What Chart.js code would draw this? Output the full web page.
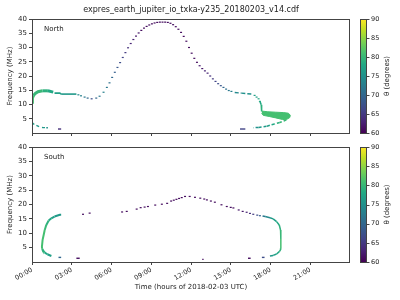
<!DOCTYPE html>
<html>
<head>
<meta charset="utf-8">
<script src="https://cdn.jsdelivr.net/npm/chart.js@4.4.0/dist/chart.umd.min.js"></script>
<style>
body { margin: 0; background: #fff; }
canvas { position: absolute; left: 0; }
#north { top: 0; }
#south { top: 140px; }
</style>
</head>
<body>
<canvas id="north" width="400" height="140"></canvas>
<canvas id="south" width="400" height="160"></canvas>
<script>
// axis ticks
var timeTicks = [0, 3, 6, 9, 12, 15, 18, 21];
var timeTickLabels = ['00:00', '03:00', '06:00', '09:00', '12:00', '15:00', '18:00', '21:00'];
var freqTicks = [5, 10, 15, 20, 25, 30, 35, 40];
var thetaTicks = [60, 65, 70, 75, 80, 85, 90];

// North: continuous parts of the upper branch
var northHeadT = [0.0, 0.03, 0.1, 0.25, 0.45, 0.8, 1.2, 1.6];
var northHeadF = [10.8, 12.2, 13.1, 13.9, 14.5, 14.8, 14.8, 14.35];
var northHeadTheta = [81, 81, 80, 80, 80, 79, 78, 77];
var northShelfT = [1.7, 2.1, 2.2, 2.8, 3.35];
var northShelfF = [14.0, 14.0, 13.65, 13.65, 13.65];
var northShelfTheta = [77, 77, 76, 76, 76];
var northShoulderT = [15.3, 15.8, 16.2, 16.7];
var northShoulderF = [14.2, 14.0, 13.8, 13.65];
var northShoulderTheta = [74, 75, 75, 76];
var northHookT = [17.2, 17.3, 17.33];
var northHookF = [11.1, 9.9, 7.6];
var northHookTheta = [78, 79, 80];

// North: sparse points of the arc
var northArcT = [3.5, 3.7, 3.97, 4.2, 4.5, 4.85, 5.1, 5.4, 5.65, 5.85, 6.05, 6.25, 6.45, 6.65, 6.85, 7.05, 7.25, 7.45, 7.65, 7.85,
  8.05, 8.25, 8.45, 8.65, 8.85, 9.05, 9.25, 9.45, 9.65, 9.85, 10.05, 10.25, 10.45, 10.65, 10.85, 11.05, 11.25, 11.45, 11.65, 11.85,
  12.05, 12.25, 12.45, 12.65, 12.85, 13.05, 13.25, 13.45, 13.65, 13.85, 14.05, 14.25, 14.45, 14.65, 14.85, 15.05,
  16.8, 16.95, 17.1, 17.2];
var northArcF = [13.4, 13.05, 12.6, 12.25, 12.0, 12.25, 12.9, 14.3, 16.0, 17.6, 19.5, 21.3, 23.0, 24.7, 26.5, 28.2, 29.9, 31.4, 32.8, 34.0,
  35.1, 36.0, 36.8, 37.4, 37.9, 38.3, 38.6, 38.8, 38.9, 38.9, 38.9, 38.8, 38.5, 38.0, 37.3, 36.4, 35.3, 33.9, 32.2, 30.0,
  28.0, 26.2, 24.8, 23.6, 22.6, 21.8, 21.0, 20.0, 19.0, 18.1, 17.3, 16.6, 16.0, 15.4, 14.9, 14.6,
  13.2, 12.6, 12.0, 11.1];
var northArcTheta = [74, 73, 72, 70, 67, 70, 72, 73, 72, 71, 70, 69, 68, 67, 66, 65, 64, 63, 63, 62,
  62, 61, 61, 61, 61, 61, 61, 61, 61, 61, 61, 61, 61, 61, 61, 61, 61, 61, 61, 61,
  61, 61, 61, 62, 62, 63, 63, 64, 65, 66, 67, 68, 70, 71, 72, 73,
  77, 77, 78, 78];

// North: emission patch near 18h (upper and lower edge)
var northPatchTopT = [17.33, 17.8, 18.4, 19.0, 19.35, 19.5];
var northPatchTopF = [7.7, 7.45, 7.3, 7.15, 6.95, 6.2];
var northPatchBottomT = [17.33, 17.45, 17.9, 18.4, 18.9, 19.2, 19.45, 19.5];
var northPatchBottomF = [7.0, 6.2, 5.8, 5.3, 4.75, 4.7, 5.4, 6.2];
var northPatchTheta = 81;

// North: lower branches
var northTailT = [19.2, 19.0, 18.7, 18.3, 17.95, 17.7, 17.4, 17.1, 16.7];
var northTailF = [4.6, 4.2, 3.7, 3.15, 2.7, 2.35, 2.15, 1.95, 1.85];
var northTailTheta = [80, 80, 79, 78, 77, 76, 76, 75, 75];
var northLowT = [0.0, 0.2, 0.33, 0.58, 0.8, 1.08, 1.2];
var northLowF = [3.7, 2.9, 2.65, 2.1, 1.95, 1.85, 1.85];
var northLowTheta = [77, 77, 76, 76, 76, 75, 75];
var northDashStart = [1.96, 15.7];
var northDashEnd = [2.2, 16.1];
var northDashF = [1.4, 1.4];
var northDashTheta = [64, 66];

// South
var southHookT = [2.2, 2.1, 1.7, 1.46, 1.26, 1.08, 0.96, 0.88, 0.8, 0.75, 0.76, 0.8, 0.96, 1.16, 1.46];
var southHookF = [16.4, 16.4, 15.8, 15.2, 14.4, 12.9, 11.15, 9.4, 7.7, 5.3, 4.6, 4.2, 3.25, 2.7, 2.1];
var southHookTheta = [76, 76, 77, 78, 79, 80, 81, 81, 81, 81, 80, 79, 78, 77, 76];
var southArcT = [3.85, 4.35, 6.8, 7.15, 7.9, 8.2, 8.5, 8.75, 9.3, 9.8, 10.2, 10.5, 10.7, 10.9, 11.1, 11.3, 11.55, 11.9,
  12.3, 12.7, 13.0, 13.2, 13.5, 13.8, 14.3, 14.7, 15.0, 15.2, 15.6, 15.9, 16.2, 16.45, 16.7, 17.0, 17.2];
var southArcF = [16.6, 17.0, 17.4, 17.6, 18.4, 18.9, 19.1, 19.3, 19.8, 20.1, 20.4, 21.2, 21.5, 21.8, 22.1, 22.4, 22.8, 22.8,
  22.5, 22.2, 21.9, 21.6, 21.2, 20.8, 19.9, 19.3, 19.0, 18.8, 18.1, 17.6, 17.3, 16.9, 16.6, 16.3, 16.1];
var southArcTheta = [61, 61, 61, 61, 61, 61, 61, 61, 61, 61, 61, 61, 61, 61, 61, 61, 61, 61,
  61, 61, 61, 61, 61, 61, 61, 61, 61, 61, 62, 62, 63, 64, 65, 67, 69];
var southEdgeT = [17.4, 17.6, 17.96, 18.2, 18.46, 18.66, 18.76, 18.78, 18.78, 18.76, 18.66, 18.46, 18.2, 17.96];
var southEdgeF = [16.0, 15.8, 15.4, 15.0, 14.05, 12.9, 11.15, 8.0, 4.8, 4.2, 3.6, 2.8, 2.3, 2.1];
var southEdgeTheta = [72, 74, 76, 77, 78, 79, 80, 81, 80, 79, 78, 77, 76, 75];
var southDashStart = [2.0, 3.35, 12.85, 16.3, 17.35];
var southDashEnd = [2.2, 3.6, 12.95, 16.5, 17.55];
var southDashF = [1.6, 1.3, 0.9, 1.3, 1.6];
var southDashTheta = [70, 61, 61, 61, 67];

var thetaMin = 60, thetaMax = 90;
var viridisStops = ['#440154', '#482475', '#414487', '#355f8d', '#2a788e', '#21918c',
  '#22a884', '#44bf70', '#7ad151', '#bddf26', '#fde725'];

function hexRgb(h) {
  return [parseInt(h.substr(1, 2), 16), parseInt(h.substr(3, 2), 16), parseInt(h.substr(5, 2), 16)];
}

function viridis(theta) {
  var u = Math.min(1, Math.max(0, (theta - thetaMin) / (thetaMax - thetaMin))) * (viridisStops.length - 1);
  var i = Math.min(Math.floor(u), viridisStops.length - 2);
  var k = u - i;
  var a = hexRgb(viridisStops[i]), b = hexRgb(viridisStops[i + 1]);
  return 'rgb(' + a.map(function (v, j) { return Math.round(v + (b[j] - v) * k); }).join(',') + ')';
}

function xy(t, f) {
  return t.map(function (x, i) { return {x: x, y: f[i]}; });
}

function track(t, f, th, width, dash) {
  return {
    data: xy(t, f),
    showLine: true,
    pointRadius: 0,
    borderWidth: width,
    borderDash: dash || [],
    borderColor: viridis(th[0]),
    segment: { borderColor: function (c) { return viridis(th[c.p0DataIndex]); } },
    fill: false
  };
}

function dots(t, f, th) {
  var cols = th.map(viridis);
  return {
    data: xy(t, f),
    showLine: false,
    pointStyle: 'line',
    pointRadius: 1,
    pointBorderWidth: 1.2,
    pointBorderColor: cols,
    pointBackgroundColor: cols
  };
}

function dashes(t0, t1, f, th) {
  return t0.map(function (s, i) {
    return track([s, t1[i]], [f[i], f[i]], [th[i], th[i]], 1.4);
  });
}

var decor = {
  id: 'decor',
  afterDraw: function (chart, args, opts) {
    var ctx = chart.ctx, a = chart.chartArea;
    ctx.save();
    ctx.strokeStyle = '#444';
    ctx.lineWidth = 1;
    ctx.strokeRect(Math.round(a.left) + 0.5, Math.round(a.top) + 0.5, Math.round(a.width) - 1, Math.round(a.height));

    ctx.fillStyle = '#222';
    ctx.font = '7px "DejaVu Sans"';
    ctx.textBaseline = 'middle';
    ctx.textAlign = 'left';
    ctx.fillText(opts.label, a.left + 12, a.top + 10);

    if (opts.title) {
      ctx.font = '8px "DejaVu Sans"';
      ctx.textAlign = 'center';
      ctx.fillText(opts.title, (a.left + a.right) / 2, 10);
    }

    // colour bar
    var x0 = Math.round(a.right) + 10, w = 7;
    var g = ctx.createLinearGradient(0, a.bottom, 0, a.top);
    viridisStops.forEach(function (c, i) { g.addColorStop(i / (viridisStops.length - 1), c); });
    ctx.fillStyle = g;
    ctx.fillRect(x0, a.top, w, a.height);
    ctx.strokeRect(x0 + 0.5, Math.round(a.top) + 0.5, w - 1, Math.round(a.height));
    ctx.fillStyle = '#222';
    ctx.font = '6.5px "DejaVu Sans"';
    ctx.textAlign = 'left';
    thetaTicks.forEach(function (v) {
      var y = a.bottom - (v - thetaMin) / (thetaMax - thetaMin) * a.height;
      ctx.beginPath();
      ctx.moveTo(x0 + w, Math.round(y) + 0.5);
      ctx.lineTo(x0 + w + 2.5, Math.round(y) + 0.5);
      ctx.stroke();
      ctx.fillText(String(v), x0 + w + 4, y);
    });
    ctx.translate(x0 + 27, (a.top + a.bottom) / 2);
    ctx.rotate(-Math.PI / 2);
    ctx.textAlign = 'center';
    ctx.font = '7px "DejaVu Sans"';
    ctx.fillText('\u03b8 (degrees)', 0, 0);
    ctx.restore();
  }
};

function makeChart(id, datasets, opts) {
  return new Chart(document.getElementById(id).getContext('2d'), {
    type: 'line',
    data: { datasets: datasets },
    plugins: [decor],
    options: {
      responsive: false,
      animation: false,
      layout: { padding: { left: 0, right: 50, top: opts.top, bottom: 0 } },
      plugins: {
        legend: { display: false },
        tooltip: { enabled: false },
        decor: { label: opts.label, title: opts.title }
      },
      scales: {
        x: {
          type: 'linear',
          min: 0,
          max: 24,
          afterBuildTicks: function (s) { s.ticks = timeTicks.map(function (v) { return {value: v}; }); },
          afterFit: function (s) { s.height = opts.xHeight; },
          border: { display: false },
          grid: { drawOnChartArea: false, drawTicks: true, tickLength: 3, color: '#444' },
          ticks: {
            display: opts.xLabels,
            autoSkip: false,
            minRotation: 30,
            maxRotation: 30,
            padding: 1,
            color: '#222',
            font: { family: 'DejaVu Sans', size: 6.5 },
            callback: function (v) { return timeTickLabels[timeTicks.indexOf(v)]; }
          },
          title: {
            display: opts.xLabels,
            text: 'Time (hours of 2018-02-03 UTC)',
            color: '#222',
            font: { family: 'DejaVu Sans', size: 7 },
            padding: { top: 0, bottom: 9 }
          }
        },
        y: {
          min: 0,
          max: 40,
          afterBuildTicks: function (s) { s.ticks = freqTicks.map(function (v) { return {value: v}; }); },
          afterFit: function (s) { s.width = 32; },
          border: { display: false },
          grid: { drawOnChartArea: false, drawTicks: true, tickLength: 3, color: '#444' },
          ticks: {
            padding: 2,
            color: '#222',
            font: { family: 'DejaVu Sans', size: 7 }
          },
          title: {
            display: true,
            text: 'Frequency (MHz)',
            color: '#222',
            font: { family: 'DejaVu Sans', size: 7 },
            padding: { top: 6, bottom: 0 }
          }
        }
      }
    }
  });
}

var patchColor = viridis(northPatchTheta);
var northSets = [
  {
    data: xy(northPatchTopT, northPatchTopF), showLine: true, pointRadius: 0, borderWidth: 1,
    borderColor: patchColor, backgroundColor: patchColor, fill: '+1'
  },
  {
    data: xy(northPatchBottomT, northPatchBottomF), showLine: true, pointRadius: 0, borderWidth: 1,
    borderColor: patchColor, fill: false
  },
  track(northHeadT, northHeadF, northHeadTheta, 3),
  track(northShelfT, northShelfF, northShelfTheta, 1.6),
  track(northShoulderT, northShoulderF, northShoulderTheta, 1.4, [4, 2]),
  track(northHookT, northHookF, northHookTheta, 1.5),
  track(northTailT, northTailF, northTailTheta, 1.5, [3, 2]),
  track(northLowT, northLowF, northLowTheta, 1.4, [3, 3]),
  dots(northArcT, northArcF, northArcTheta)
].concat(dashes(northDashStart, northDashEnd, northDashF, northDashTheta));

var southSets = [
  track(southHookT, southHookF, southHookTheta, 2),
  track(southEdgeT, southEdgeF, southEdgeTheta, 1.5),
  dots(southArcT, southArcF, southArcTheta)
].concat(dashes(southDashStart, southDashEnd, southDashF, southDashTheta));

makeChart('north', northSets, {
  top: 19, xHeight: 7, xLabels: false, label: 'North',
  title: 'expres_earth_jupiter_io_txka-y235_20180203_v14.cdf'
});
makeChart('south', southSets, { top: 7, xHeight: 38, xLabels: true, label: 'South' });
</script>
</body>
</html>
